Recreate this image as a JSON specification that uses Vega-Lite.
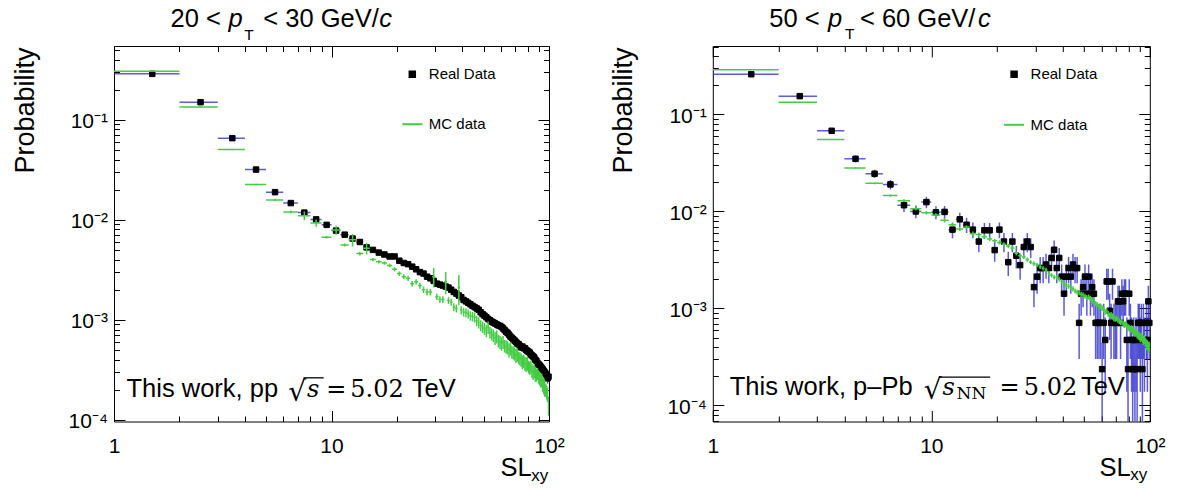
{
"$schema":"https://vega.github.io/schema/vega-lite/v6.json",
"background":"white",
"padding":{"left":10,"top":6,"right":5,"bottom":5},
"bounds":"flush",
"spacing":163.8,
"datasets":{
"one":[{}],
"ld":[{"x":1.5,"y":0.288,"e":0.003},{"x":2.5,"y":0.15,"e":0.002},{"x":3.5,"y":0.0655,"e":0.0012},{"x":4.5,"y":0.0318,"e":0.0008},{"x":5.5,"y":0.0189,"e":0.0006},{"x":6.5,"y":0.0147,"e":0.0005},{"x":7.5,"y":0.0118,"e":0.0004},{"x":8.5,"y":0.0101,"e":0.0004},{"x":9.5,"y":0.0089,"e":0.0003},{"x":10.5,"y":0.0078,"e":0.0003},{"x":11.5,"y":0.0071,"e":0.0003},{"x":12.5,"y":0.0065,"e":0.0003},{"x":13.5,"y":0.006,"e":0.00025},{"x":14.5,"y":0.0053,"e":0.00022},{"x":15.5,"y":0.005,"e":0.0002},{"x":16.5,"y":0.0047,"e":0.0002},{"x":17.5,"y":0.0045,"e":0.0002},{"x":18.5,"y":0.0043,"e":0.00018},{"x":19.5,"y":0.0043,"e":0.00018},{"x":20.5,"y":0.0039,"e":0.00017},{"x":21.5,"y":0.0037,"e":0.00016},{"x":22.5,"y":0.0036,"e":0.00016},{"x":23.5,"y":0.0034,"e":0.00015},{"x":24.5,"y":0.0032,"e":0.00014},{"x":25.5,"y":0.003,"e":0.00014},{"x":26.5,"y":0.0029,"e":0.00013},{"x":27.5,"y":0.0027,"e":0.00012},{"x":28.5,"y":0.0026,"e":0.00012},{"x":29.5,"y":0.00245,"e":0.00011},{"x":30.5,"y":0.0023,"e":0.00011},{"x":31.5,"y":0.00225,"e":0.0001},{"x":32.5,"y":0.0022,"e":0.0001},{"x":33.5,"y":0.00215,"e":0.0001},{"x":34.5,"y":0.0021,"e":0.0001},{"x":35.5,"y":0.002,"e":0.0001},{"x":36.5,"y":0.0019,"e":0.00009},{"x":37.5,"y":0.00183,"e":0.00009},{"x":38.5,"y":0.00175,"e":0.00009},{"x":39.5,"y":0.00168,"e":0.00008},{"x":40.5,"y":0.00158,"e":0.00008},{"x":41.5,"y":0.00153,"e":0.00008},{"x":42.5,"y":0.00148,"e":0.00008},{"x":43.5,"y":0.00143,"e":0.00007},{"x":44.5,"y":0.00138,"e":0.00007},{"x":45.5,"y":0.00134,"e":0.00007},{"x":46.5,"y":0.0013,"e":0.00007},{"x":47.5,"y":0.00126,"e":0.00007},{"x":48.5,"y":0.00119,"e":0.00006},{"x":49.5,"y":0.00114,"e":0.00006},{"x":50.5,"y":0.0011,"e":0.00006},{"x":51.5,"y":0.00106,"e":0.00006},{"x":52.5,"y":0.00102,"e":0.00006},{"x":53.5,"y":0.00099,"e":0.00006},{"x":54.5,"y":0.00096,"e":0.00005},{"x":55.5,"y":0.00094,"e":0.00005},{"x":56.5,"y":0.00092,"e":0.00005},{"x":57.5,"y":0.0009,"e":0.00005},{"x":58.5,"y":0.00088,"e":0.00005},{"x":59.5,"y":0.00087,"e":0.00005},{"x":60.5,"y":0.00085,"e":0.00005},{"x":61.5,"y":0.00082,"e":0.00005},{"x":62.5,"y":0.00079,"e":0.00005},{"x":63.5,"y":0.00076,"e":0.00005},{"x":64.5,"y":0.00074,"e":0.00005},{"x":65.5,"y":0.00071,"e":0.00005},{"x":66.5,"y":0.00068,"e":0.00005},{"x":67.5,"y":0.00066,"e":0.00004},{"x":68.5,"y":0.00064,"e":0.00004},{"x":69.5,"y":0.00062,"e":0.00004},{"x":70.5,"y":0.0006,"e":0.00004},{"x":71.5,"y":0.00058,"e":0.00004},{"x":72.5,"y":0.00057,"e":0.00004},{"x":73.5,"y":0.00055,"e":0.00004},{"x":74.5,"y":0.00053,"e":0.00004},{"x":75.5,"y":0.00054,"e":0.00004},{"x":76.5,"y":0.00052,"e":0.00004},{"x":77.5,"y":0.00052,"e":0.00004},{"x":78.5,"y":0.0005,"e":0.00004},{"x":79.5,"y":0.00049,"e":0.00004},{"x":80.5,"y":0.00048,"e":0.00004},{"x":81.5,"y":0.00047,"e":0.00004},{"x":82.5,"y":0.00045,"e":0.00003},{"x":83.5,"y":0.00044,"e":0.00003},{"x":84.5,"y":0.00043,"e":0.00003},{"x":85.5,"y":0.00042,"e":0.00003},{"x":86.5,"y":0.0004,"e":0.00003},{"x":87.5,"y":0.00039,"e":0.00003},{"x":88.5,"y":0.00037,"e":0.00003},{"x":89.5,"y":0.00036,"e":0.00003},{"x":90.5,"y":0.00035,"e":0.00003},{"x":91.5,"y":0.00034,"e":0.00003},{"x":92.5,"y":0.00033,"e":0.00003},{"x":93.5,"y":0.00032,"e":0.00003},{"x":94.5,"y":0.00031,"e":0.00003},{"x":95.5,"y":0.0003,"e":0.00003},{"x":96.5,"y":0.00029,"e":0.00003},{"x":97.5,"y":0.00028,"e":0.00003},{"x":98.5,"y":0.00026,"e":0.00003},{"x":99.5,"y":0.00027,"e":0.00003}],
"lm":[{"x":1.5,"y":0.306,"e":0.002},{"x":2.5,"y":0.134,"e":0.0015},{"x":3.5,"y":0.0504,"e":0.0008},{"x":4.5,"y":0.0225,"e":0.0005},{"x":5.5,"y":0.0158,"e":0.0004},{"x":6.5,"y":0.012,"e":0.0004},{"x":7.5,"y":0.011,"e":0.0011},{"x":8.5,"y":0.0093,"e":0.0008},{"x":9.5,"y":0.0067,"e":0.0002},{"x":10.5,"y":0.0079,"e":0.0008},{"x":11.5,"y":0.0056,"e":0.0002},{"x":12.5,"y":0.0063,"e":0.0009},{"x":13.5,"y":0.0046,"e":0.0002},{"x":14.5,"y":0.0052,"e":0.0007},{"x":15.5,"y":0.004,"e":0.00015},{"x":16.5,"y":0.0038,"e":0.00015},{"x":17.5,"y":0.0037,"e":0.00015},{"x":18.5,"y":0.0035,"e":0.00015},{"x":19.5,"y":0.0032,"e":0.00015},{"x":20.5,"y":0.0029,"e":0.00015},{"x":21.5,"y":0.0027,"e":0.00015},{"x":22.5,"y":0.0026,"e":0.00015},{"x":23.5,"y":0.0023,"e":0.00015},{"x":24.5,"y":0.0024,"e":0.00015},{"x":25.5,"y":0.0022,"e":0.00015},{"x":26.5,"y":0.002,"e":0.00015},{"x":27.5,"y":0.0019,"e":0.00015},{"x":28.5,"y":0.0019,"e":0.00015},{"x":29.5,"y":0.0027,"e":0.0006},{"x":30.5,"y":0.0017,"e":0.00012},{"x":31.5,"y":0.0016,"e":0.00012},{"x":32.5,"y":0.0016,"e":0.00012},{"x":33.5,"y":0.0024,"e":0.0006},{"x":34.5,"y":0.00156,"e":0.00012},{"x":35.5,"y":0.0015,"e":0.00012},{"x":36.5,"y":0.00134,"e":0.00012},{"x":37.5,"y":0.0013,"e":0.00012},{"x":38.5,"y":0.0021,"e":0.0007},{"x":39.5,"y":0.00125,"e":0.00012},{"x":40.5,"y":0.0012,"e":0.00012},{"x":41.5,"y":0.00118,"e":0.00012},{"x":42.5,"y":0.00115,"e":0.00012},{"x":43.5,"y":0.0011,"e":0.00012},{"x":44.5,"y":0.00108,"e":0.00012},{"x":45.5,"y":0.00106,"e":0.00012},{"x":46.5,"y":0.00098,"e":0.00012},{"x":47.5,"y":0.00094,"e":0.00012},{"x":48.5,"y":0.00088,"e":0.00011},{"x":49.5,"y":0.00085,"e":0.00011},{"x":50.5,"y":0.00082,"e":0.00011},{"x":51.5,"y":0.00078,"e":0.00011},{"x":52.5,"y":0.00084,"e":0.00012},{"x":53.5,"y":0.00075,"e":0.0001},{"x":54.5,"y":0.00072,"e":0.0001},{"x":55.5,"y":0.0007,"e":0.0001},{"x":56.5,"y":0.00066,"e":0.0001},{"x":57.5,"y":0.00068,"e":0.0001},{"x":58.5,"y":0.00062,"e":0.00009},{"x":59.5,"y":0.0006,"e":0.00009},{"x":60.5,"y":0.00058,"e":0.00009},{"x":61.5,"y":0.0006,"e":0.00009},{"x":62.5,"y":0.00055,"e":0.00008},{"x":63.5,"y":0.00054,"e":0.00008},{"x":64.5,"y":0.00053,"e":0.00008},{"x":65.5,"y":0.0005,"e":0.00008},{"x":66.5,"y":0.00052,"e":0.00008},{"x":67.5,"y":0.00048,"e":0.00007},{"x":68.5,"y":0.00047,"e":0.00007},{"x":69.5,"y":0.00046,"e":0.00007},{"x":70.5,"y":0.00044,"e":0.00007},{"x":71.5,"y":0.00045,"e":0.00007},{"x":72.5,"y":0.00042,"e":0.00006},{"x":73.5,"y":0.00041,"e":0.00006},{"x":74.5,"y":0.0004,"e":0.00006},{"x":75.5,"y":0.00038,"e":0.00006},{"x":76.5,"y":0.00039,"e":0.00006},{"x":77.5,"y":0.00037,"e":0.00006},{"x":78.5,"y":0.00036,"e":0.00006},{"x":79.5,"y":0.00037,"e":0.00006},{"x":80.5,"y":0.00034,"e":0.00005},{"x":81.5,"y":0.00033,"e":0.00005},{"x":82.5,"y":0.00034,"e":0.00005},{"x":83.5,"y":0.00031,"e":0.00005},{"x":84.5,"y":0.0003,"e":0.00005},{"x":85.5,"y":0.00031,"e":0.00005},{"x":86.5,"y":0.00029,"e":0.00005},{"x":87.5,"y":0.00028,"e":0.00004},{"x":88.5,"y":0.00029,"e":0.00004},{"x":89.5,"y":0.00027,"e":0.00004},{"x":90.5,"y":0.00026,"e":0.00004},{"x":91.5,"y":0.00025,"e":0.00004},{"x":92.5,"y":0.00025,"e":0.00004},{"x":93.5,"y":0.00023,"e":0.00004},{"x":94.5,"y":0.00022,"e":0.00004},{"x":95.5,"y":0.00021,"e":0.00004},{"x":96.5,"y":0.0002,"e":0.00003},{"x":97.5,"y":0.00019,"e":0.00003},{"x":98.5,"y":0.00018,"e":0.00003},{"x":99.5,"y":0.00014,"e":0.00003}],
"rd":[{"x":1.5,"y":0.26,"e":0.0078},{"x":2.5,"y":0.1545,"e":0.006},{"x":3.5,"y":0.0679,"e":0.004},{"x":4.5,"y":0.0349,"e":0.0029},{"x":5.5,"y":0.0245,"e":0.0024},{"x":6.5,"y":0.019,"e":0.0021},{"x":7.5,"y":0.0116,"e":0.0017},{"x":8.5,"y":0.01,"e":0.0015},{"x":9.5,"y":0.0125,"e":0.0017},{"x":10.5,"y":0.0098,"e":0.0015},{"x":11.5,"y":0.0099,"e":0.0015},{"x":12.5,"y":0.0065,"e":0.0012},{"x":13.5,"y":0.0083,"e":0.0014},{"x":14.5,"y":0.0073,"e":0.0013},{"x":15.5,"y":0.0065,"e":0.0012},{"x":16.5,"y":0.0049,"e":0.0011},{"x":17.5,"y":0.0064,"e":0.0012},{"x":18.5,"y":0.0064,"e":0.0012},{"x":19.5,"y":0.004,"e":0.00097},{"x":20.5,"y":0.0065,"e":0.0012},{"x":21.5,"y":0.0049,"e":0.0011},{"x":22.5,"y":0.003,"e":0.00084},{"x":23.5,"y":0.0049,"e":0.0011},{"x":24.5,"y":0.0035,"e":0.00091},{"x":25.5,"y":0.0028,"e":0.00082},{"x":26.5,"y":0.0043,"e":0.001},{"x":27.5,"y":0.0049,"e":0.0011},{"x":28.5,"y":0.0043,"e":0.001},{"x":29.5,"y":0.00166,"e":0.00063},{"x":30.5,"y":0.00213,"e":0.00071},{"x":31.5,"y":0.00261,"e":0.00079},{"x":32.5,"y":0.00261,"e":0.00079},{"x":33.5,"y":0.00284,"e":0.00082},{"x":34.5,"y":0.00261,"e":0.00079},{"x":35.5,"y":0.00332,"e":0.00089},{"x":36.5,"y":0.00403,"e":0.00098},{"x":37.5,"y":0.00261,"e":0.00079},{"x":38.5,"y":0.00332,"e":0.00089},{"x":39.5,"y":0.00213,"e":0.00071},{"x":40.5,"y":0.00142,"e":0.00058},{"x":41.5,"y":0.00213,"e":0.00071},{"x":42.5,"y":0.00261,"e":0.00079},{"x":43.5,"y":0.00213,"e":0.00071},{"x":44.5,"y":0.00284,"e":0.00082},{"x":45.5,"y":0.00261,"e":0.00079},{"x":46.5,"y":0.00261,"e":0.00079},{"x":47.5,"y":0.000711,"e":0.00041},{"x":48.5,"y":0.00142,"e":0.00058},{"x":49.5,"y":0.00166,"e":0.00063},{"x":50.5,"y":0.00213,"e":0.00071},{"x":51.5,"y":0.00142,"e":0.00058},{"x":52.5,"y":0.00213,"e":0.00071},{"x":53.5,"y":0.00142,"e":0.00058},{"x":54.5,"y":0.00166,"e":0.00063},{"x":55.5,"y":0.00142,"e":0.00058},{"x":56.5,"y":0.000711,"e":0.00041},{"x":57.5,"y":0.000711,"e":0.00041},{"x":58.5,"y":0.000711,"e":0.00041},{"x":59.5,"y":0.000711,"e":0.00041},{"x":60.5,"y":0.000237,"e":0.00021},{"x":61.5,"y":0.000711,"e":0.00041},{"x":62.5,"y":0.000474,"e":0.000335},{"x":63.5,"y":0.0019,"e":0.00067},{"x":64.5,"y":0.0019,"e":0.00067},{"x":65.5,"y":0.000948,"e":0.000474},{"x":66.5,"y":0.000711,"e":0.00041},{"x":67.5,"y":0.0019,"e":0.00067},{"x":68.5,"y":0.000711,"e":0.00041},{"x":69.5,"y":0.000711,"e":0.00041},{"x":70.5,"y":0.000711,"e":0.00041},{"x":71.5,"y":0.001185,"e":0.00053},{"x":72.5,"y":0.001185,"e":0.00053},{"x":73.5,"y":0.000711,"e":0.00041},{"x":74.5,"y":0.00142,"e":0.00058},{"x":75.5,"y":0.001185,"e":0.00053},{"x":76.5,"y":0.00142,"e":0.00058},{"x":77.5,"y":0.00142,"e":0.00058},{"x":78.5,"y":0.000474,"e":0.000335},{"x":79.5,"y":0.000237,"e":0.00021},{"x":80.5,"y":0.00142,"e":0.00058},{"x":81.5,"y":0.000711,"e":0.00041},{"x":82.5,"y":0.000474,"e":0.000335},{"x":83.5,"y":0.000237,"e":0.00021},{"x":84.5,"y":0.000474,"e":0.000335},{"x":85.5,"y":0.000237,"e":0.00021},{"x":86.5,"y":0.000474,"e":0.000335},{"x":87.5,"y":0.000237,"e":0.00021},{"x":88.5,"y":0.000711,"e":0.00041},{"x":89.5,"y":0.000711,"e":0.00041},{"x":90.5,"y":0.000474,"e":0.000335},{"x":91.5,"y":0.000711,"e":0.00041},{"x":92.5,"y":0.000237,"e":0.00021},{"x":93.5,"y":0.000711,"e":0.00041},{"x":94.5,"y":0.000474,"e":0.000335},{"x":96.5,"y":0.000711,"e":0.00041},{"x":97.5,"y":0.000474,"e":0.000335},{"x":98.5,"y":0.001185,"e":0.00053},{"x":99.5,"y":0.000711,"e":0.00041}],
"rm":[{"x":1.5,"y":0.289,"e":0.002},{"x":2.5,"y":0.134,"e":0.0015},{"x":3.5,"y":0.0552,"e":0.0008},{"x":4.5,"y":0.028,"e":0.0005},{"x":5.5,"y":0.0195,"e":0.0004},{"x":6.5,"y":0.0146,"e":0.0004},{"x":7.5,"y":0.0129,"e":0.0004},{"x":8.5,"y":0.0107,"e":0.0004},{"x":9.5,"y":0.0097,"e":0.0004},{"x":10.5,"y":0.0092,"e":0.0004},{"x":11.5,"y":0.0081,"e":0.0004},{"x":12.5,"y":0.0073,"e":0.0003},{"x":13.5,"y":0.0066,"e":0.0003},{"x":14.5,"y":0.0069,"e":0.0003},{"x":15.5,"y":0.0059,"e":0.0003},{"x":16.5,"y":0.0058,"e":0.00028},{"x":17.5,"y":0.0055,"e":0.00027},{"x":18.5,"y":0.0052,"e":0.00026},{"x":19.5,"y":0.005,"e":0.00025},{"x":20.5,"y":0.0048,"e":0.00024},{"x":21.5,"y":0.0046,"e":0.00023},{"x":22.5,"y":0.0044,"e":0.00022},{"x":23.5,"y":0.0042,"e":0.00021},{"x":24.5,"y":0.0037,"e":0.00019},{"x":25.5,"y":0.0035,"e":0.00018},{"x":26.5,"y":0.0034,"e":0.00017},{"x":27.5,"y":0.0032,"e":0.00016},{"x":28.5,"y":0.003,"e":0.00015},{"x":29.5,"y":0.0029,"e":0.00015},{"x":30.5,"y":0.0028,"e":0.00014},{"x":31.5,"y":0.0027,"e":0.00014},{"x":32.5,"y":0.0026,"e":0.00013},{"x":33.5,"y":0.0025,"e":0.00013},{"x":34.5,"y":0.0023,"e":0.00012},{"x":35.5,"y":0.0022,"e":0.00011},{"x":36.5,"y":0.0021,"e":0.00011},{"x":37.5,"y":0.0021,"e":0.00011},{"x":38.5,"y":0.002,"e":0.0001},{"x":39.5,"y":0.0019,"e":0.0001},{"x":40.5,"y":0.0018,"e":0.0001},{"x":41.5,"y":0.00175,"e":0.0001},{"x":42.5,"y":0.0017,"e":0.0001},{"x":43.5,"y":0.00165,"e":0.0001},{"x":44.5,"y":0.0016,"e":0.0001},{"x":45.5,"y":0.00152,"e":0.00009},{"x":46.5,"y":0.00148,"e":0.00009},{"x":47.5,"y":0.00145,"e":0.00009},{"x":48.5,"y":0.0014,"e":0.00009},{"x":49.5,"y":0.00138,"e":0.00009},{"x":50.5,"y":0.00134,"e":0.00008},{"x":51.5,"y":0.0013,"e":0.00008},{"x":52.5,"y":0.00131,"e":0.00008},{"x":53.5,"y":0.00127,"e":0.00008},{"x":54.5,"y":0.0012,"e":0.00008},{"x":55.5,"y":0.00118,"e":0.00008},{"x":56.5,"y":0.00112,"e":0.00007},{"x":57.5,"y":0.0011,"e":0.00007},{"x":58.5,"y":0.00104,"e":0.00007},{"x":59.5,"y":0.00105,"e":0.00007},{"x":60.5,"y":0.00101,"e":0.00007},{"x":61.5,"y":0.00098,"e":0.00007},{"x":62.5,"y":0.00092,"e":0.00006},{"x":63.5,"y":0.00095,"e":0.00006},{"x":64.5,"y":0.00088,"e":0.00006},{"x":65.5,"y":0.00085,"e":0.00006},{"x":66.5,"y":0.00086,"e":0.00006},{"x":67.5,"y":0.00083,"e":0.00006},{"x":68.5,"y":0.0008,"e":0.00006},{"x":69.5,"y":0.00078,"e":0.00005},{"x":70.5,"y":0.00079,"e":0.00005},{"x":71.5,"y":0.00076,"e":0.00005},{"x":72.5,"y":0.00074,"e":0.00005},{"x":73.5,"y":0.00072,"e":0.00005},{"x":74.5,"y":0.00073,"e":0.00005},{"x":75.5,"y":0.0007,"e":0.00005},{"x":76.5,"y":0.00068,"e":0.00005},{"x":77.5,"y":0.00069,"e":0.00005},{"x":78.5,"y":0.00066,"e":0.00005},{"x":79.5,"y":0.00064,"e":0.00005},{"x":80.5,"y":0.00063,"e":0.00005},{"x":81.5,"y":0.00061,"e":0.00005},{"x":82.5,"y":0.00062,"e":0.00005},{"x":83.5,"y":0.00059,"e":0.00005},{"x":84.5,"y":0.00058,"e":0.00005},{"x":85.5,"y":0.00056,"e":0.00005},{"x":86.5,"y":0.00057,"e":0.00005},{"x":87.5,"y":0.00054,"e":0.00005},{"x":88.5,"y":0.00053,"e":0.00005},{"x":89.5,"y":0.00052,"e":0.00005},{"x":90.5,"y":0.0005,"e":0.00005},{"x":91.5,"y":0.00051,"e":0.00005},{"x":92.5,"y":0.00049,"e":0.00005},{"x":93.5,"y":0.00047,"e":0.00005},{"x":94.5,"y":0.00048,"e":0.00005},{"x":95.5,"y":0.00045,"e":0.00005},{"x":96.5,"y":0.00043,"e":0.00005},{"x":97.5,"y":0.00042,"e":0.00005},{"x":98.5,"y":0.0004,"e":0.00005},{"x":99.5,"y":0.00041,"e":0.00005}]
},
"hconcat":[
{"width":435,"height":375.5,
"resolve":{"axis":{"x":"independent","y":"independent"}},
"layer":[
{"data":{"name":"ld"},"transform":[{"bin":{"step":1,"extent":[1,100]},"field":"x","as":["lo","hi"]}],
"mark":{"type":"rule","color":"#3333cc","opacity":0.8,"strokeWidth":1.5,"clip":true},
"encoding":{"x":{"field":"lo","type":"quantitative","scale":{"type":"log","domain":[1,100],"nice":false},
"axis":{"orient":"bottom","values":[1,10,100],"tickSize":-11,"labelPadding":25.4,"labelExpr":"datum.value < 2 ? '1' : datum.value < 20 ? '10' : '10²'","title":"SL","titleFontSize":25.5,"titleX":417.3,"titleY":54,"titleAlign":"right","titleBaseline":"alphabetic"}},
"x2":{"field":"hi"},
"y":{"field":"y","type":"quantitative","scale":{"type":"log","domain":[0.0000962,0.547],"nice":false},
"axis":{"orient":"left","values":[0.0001,0.001,0.01,0.1],"tickSize":-11,"labelPadding":17.5,"labelOffset":2,"labelExpr":"datum.value > 0.05 ? '10⁻¹' : datum.value > 0.005 ? '10⁻²' : datum.value > 0.0005 ? '10⁻³' : '10⁻⁴'","title":"Probability","titleFontSize":27,"titleAngle":270,"titleX":-101.7,"titleY":1,"titleAlign":"right","titleBaseline":"top"}}}},
{"data":{"name":"ld"},
"mark":{"type":"errorbar","color":"#3333cc","opacity":0.8,"thickness":1.5,"clip":true},
"encoding":{"x":{"field":"x","type":"quantitative","axis":{"orient":"top","values":[2,3,4,5,6,7,8,9,20,30,40,50,60,70,80,90],"tickSize":-5.5,"labels":false,"title":null}},
"y":{"field":"y","type":"quantitative","axis":{"orient":"right","values":[0.0002,0.0003,0.0004,0.0005,0.0006,0.0007,0.0008,0.0009,0.002,0.003,0.004,0.005,0.006,0.007,0.008,0.009,0.02,0.03,0.04,0.05,0.06,0.07,0.08,0.09,0.2,0.3,0.4,0.5],"tickSize":-5.5,"labels":false,"title":null}},
"yError":{"field":"e"}}},
{"data":{"name":"ld"},
"mark":{"type":"point","filled":true,"opacity":1,"strokeWidth":1},
"encoding":{"x":{"field":"x","type":"quantitative","axis":{"orient":"bottom","values":[2,3,4,5,6,7,8,9,20,30,40,50,60,70,80,90],"tickSize":-5.5,"labels":false,"title":null}},
"y":{"field":"y","type":"quantitative","axis":{"orient":"left","values":[0.0002,0.0003,0.0004,0.0005,0.0006,0.0007,0.0008,0.0009,0.002,0.003,0.004,0.005,0.006,0.007,0.008,0.009,0.02,0.03,0.04,0.05,0.06,0.07,0.08,0.09,0.2,0.3,0.4,0.5],"tickSize":-5.5,"labels":false,"title":null}},
"fill":{"datum":"Real Data","type":"nominal","scale":{"domain":["Real Data","MC data"],"range":["black","#44cc44"]},"legend":{"orient":"none","legendX":287.3,"legendY":20.8,"title":null,"labelFont":"Liberation Sans","labelFontSize":15,"labelColor":"black","labelOffset":5.5,"rowPadding":30.4,"symbolStrokeWidth":2,"labelLimit":0}},
"stroke":{"datum":"Real Data","type":"nominal","scale":{"domain":["Real Data","MC data"],"range":["black","#44cc44"]},"legend":{"orient":"none","legendX":287.3,"legendY":20.8,"title":null,"labelFont":"Liberation Sans","labelFontSize":15,"labelColor":"black","labelOffset":5.5,"rowPadding":30.4,"symbolStrokeWidth":2,"labelLimit":0}},
"shape":{"datum":"Real Data","type":"nominal","scale":{"domain":["Real Data","MC data"],"range":["square","stroke"]},"legend":{"orient":"none","legendX":287.3,"legendY":20.8,"title":null,"labelFont":"Liberation Sans","labelFontSize":15,"labelColor":"black","labelOffset":5.5,"rowPadding":30.4,"symbolStrokeWidth":2,"labelLimit":0}},
"size":{"datum":"Real Data","type":"nominal","scale":{"type":"ordinal","domain":["Real Data","MC data"],"range":[30,400]},"legend":{"orient":"none","legendX":287.3,"legendY":20.8,"title":null,"labelFont":"Liberation Sans","labelFontSize":15,"labelColor":"black","labelOffset":5.5,"rowPadding":30.4,"symbolStrokeWidth":2,"labelLimit":0}}}},
{"data":{"name":"lm"},"transform":[{"bin":{"step":1,"extent":[1,100]},"field":"x","as":["lo","hi"]}],
"mark":{"type":"rule","color":"#44cc44","strokeWidth":1.5,"clip":true},
"encoding":{"x":{"field":"lo","type":"quantitative","axis":{"orient":"top","values":[1,10,100],"tickSize":-11,"labels":false,"title":null}},"x2":{"field":"hi"},
"y":{"field":"y","type":"quantitative","axis":{"orient":"right","values":[0.0001,0.001,0.01,0.1],"tickSize":-11,"labels":false,"title":null}}}},
{"data":{"name":"lm"},
"mark":{"type":"errorbar","color":"#44cc44","thickness":1.5,"clip":true},
"encoding":{"x":{"field":"x","type":"quantitative","axis":null},"y":{"field":"y","type":"quantitative","axis":null},"yError":{"field":"e"}}},
{"data":{"name":"one"},"mark":{"type":"text","text":"20 < ","align":"left","baseline":"alphabetic","font":"Liberation Sans","fontSize":25.5,"color":"black"},"encoding":{"x":{"datum":1.819,"axis":null},"y":{"datum":0.843,"axis":null}}},
{"data":{"name":"one"},"mark":{"type":"text","text":"p","align":"left","baseline":"alphabetic","font":"Liberation Sans","fontStyle":"italic","fontSize":25.5,"color":"black"},"encoding":{"x":{"datum":3.36,"axis":null},"y":{"datum":0.843,"axis":null}}},
{"data":{"name":"one"},"mark":{"type":"text","text":"T","align":"left","baseline":"alphabetic","font":"Liberation Sans","fontSize":15.5,"color":"black"},"encoding":{"x":{"datum":3.968,"axis":null},"y":{"datum":0.631,"axis":null}}},
{"data":{"name":"one"},"mark":{"type":"text","text":"< 30 GeV/","align":"left","baseline":"alphabetic","font":"Liberation Sans","fontSize":25.5,"color":"black"},"encoding":{"x":{"datum":4.858,"axis":null},"y":{"datum":0.843,"axis":null}}},
{"data":{"name":"one"},"mark":{"type":"text","text":"c","align":"left","baseline":"alphabetic","font":"Liberation Sans","fontStyle":"italic","fontSize":25.5,"color":"black"},"encoding":{"x":{"datum":16.57,"axis":null},"y":{"datum":0.843,"axis":null}}},
{"data":{"name":"one"},"mark":{"type":"text","text":"This work, pp","align":"left","baseline":"alphabetic","font":"Liberation Sans","fontSize":25.5,"color":"black"},"encoding":{"x":{"datum":1.141,"axis":null},"y":{"datum":0.0001683,"axis":null}}},
{"data":{"name":"one"},"mark":{"type":"text","text":"√","align":"left","baseline":"alphabetic","font":"DejaVu Sans","fontSize":28,"color":"black"},"encoding":{"x":{"datum":6.323,"axis":null},"y":{"datum":0.000155,"axis":null}}},
{"data":{"name":"one"},"mark":{"type":"text","text":"s","align":"left","baseline":"alphabetic","font":"DejaVu Serif","fontStyle":"italic","fontSize":24,"color":"black"},"encoding":{"x":{"datum":7.72,"axis":null},"y":{"datum":0.0001683,"axis":null}}},
{"data":{"name":"one"},"mark":{"type":"text","text":"=","align":"left","baseline":"alphabetic","font":"DejaVu Serif","fontSize":24,"color":"black"},"encoding":{"x":{"datum":9.45,"axis":null},"y":{"datum":0.0001683,"axis":null}}},
{"data":{"name":"one"},"mark":{"type":"text","text":"5.02","align":"left","baseline":"alphabetic","font":"DejaVu Serif","fontSize":24,"color":"black"},"encoding":{"x":{"datum":12.2,"axis":null},"y":{"datum":0.0001683,"axis":null}}},
{"data":{"name":"one"},"mark":{"type":"text","text":"TeV","align":"left","baseline":"alphabetic","font":"Liberation Sans","fontSize":25.5,"color":"black"},"encoding":{"x":{"datum":23.4,"axis":null},"y":{"datum":0.0001683,"axis":null}}},
{"data":{"name":"one"},"mark":{"type":"rule","color":"black","strokeWidth":1.3},"encoding":{"x":{"datum":7.436,"axis":null},"x2":{"datum":9.2},"y":{"datum":0.000263,"axis":null}}},
{"data":{"name":"one"},"mark":{"type":"text","text":"xy","align":"left","baseline":"alphabetic","font":"Liberation Sans","fontSize":17,"color":"black"},"encoding":{"x":{"datum":82.9,"axis":null},"y":{"datum":0.0000247,"axis":null}}}
]},
{"width":437,"height":375.5,
"resolve":{"axis":{"x":"independent","y":"independent"}},
"layer":[
{"data":{"name":"rd"},"transform":[{"bin":{"step":1,"extent":[1,100]},"field":"x","as":["lo","hi"]}],
"mark":{"type":"rule","color":"#3333cc","opacity":0.8,"strokeWidth":1.5,"clip":true},
"encoding":{"x":{"field":"lo","type":"quantitative","scale":{"type":"log","domain":[1,100],"nice":false},
"axis":{"orient":"bottom","values":[1,10,100],"tickSize":-11,"labelPadding":25.4,"labelExpr":"datum.value < 2 ? '1' : datum.value < 20 ? '10' : '10²'","title":"SL","titleFontSize":25.5,"titleX":417.5,"titleY":54,"titleAlign":"right","titleBaseline":"alphabetic"}},
"x2":{"field":"hi"},
"y":{"field":"y","type":"quantitative","scale":{"type":"log","domain":[0.0000684,0.508],"nice":false},
"axis":{"orient":"left","values":[0.0001,0.001,0.01,0.1],"tickSize":-11,"labelPadding":17.5,"labelOffset":2,"labelExpr":"datum.value > 0.05 ? '10⁻¹' : datum.value > 0.005 ? '10⁻²' : datum.value > 0.0005 ? '10⁻³' : '10⁻⁴'","title":"Probability","titleFontSize":27,"titleAngle":270,"titleX":-102,"titleY":1,"titleAlign":"right","titleBaseline":"top"}}}},
{"data":{"name":"rd"},
"mark":{"type":"errorbar","color":"#3333cc","opacity":0.8,"thickness":1.5,"clip":true},
"encoding":{"x":{"field":"x","type":"quantitative","axis":{"orient":"top","values":[2,3,4,5,6,7,8,9,20,30,40,50,60,70,80,90],"tickSize":-5.5,"labels":false,"title":null}},
"y":{"field":"y","type":"quantitative","axis":{"orient":"right","values":[0.00007,0.00008,0.00009,0.0002,0.0003,0.0004,0.0005,0.0006,0.0007,0.0008,0.0009,0.002,0.003,0.004,0.005,0.006,0.007,0.008,0.009,0.02,0.03,0.04,0.05,0.06,0.07,0.08,0.09,0.2,0.3,0.4,0.5],"tickSize":-5.5,"labels":false,"title":null}},
"yError":{"field":"e"}}},
{"data":{"name":"rd"},
"mark":{"type":"point","filled":true,"opacity":1,"strokeWidth":1},
"encoding":{"x":{"field":"x","type":"quantitative","axis":{"orient":"bottom","values":[2,3,4,5,6,7,8,9,20,30,40,50,60,70,80,90],"tickSize":-5.5,"labels":false,"title":null}},
"y":{"field":"y","type":"quantitative","axis":{"orient":"left","values":[0.00007,0.00008,0.00009,0.0002,0.0003,0.0004,0.0005,0.0006,0.0007,0.0008,0.0009,0.002,0.003,0.004,0.005,0.006,0.007,0.008,0.009,0.02,0.03,0.04,0.05,0.06,0.07,0.08,0.09,0.2,0.3,0.4,0.5],"tickSize":-5.5,"labels":false,"title":null}},
"fill":{"datum":"Real Data","type":"nominal","scale":{"domain":["Real Data","MC data"],"range":["black","#44cc44"]},"legend":{"orient":"none","legendX":290.3,"legendY":20.8,"title":null,"labelFont":"Liberation Sans","labelFontSize":15,"labelColor":"black","labelOffset":5.5,"rowPadding":31,"symbolStrokeWidth":2,"labelLimit":0}},
"stroke":{"datum":"Real Data","type":"nominal","scale":{"domain":["Real Data","MC data"],"range":["black","#44cc44"]},"legend":{"orient":"none","legendX":290.3,"legendY":20.8,"title":null,"labelFont":"Liberation Sans","labelFontSize":15,"labelColor":"black","labelOffset":5.5,"rowPadding":31,"symbolStrokeWidth":2,"labelLimit":0}},
"shape":{"datum":"Real Data","type":"nominal","scale":{"domain":["Real Data","MC data"],"range":["square","stroke"]},"legend":{"orient":"none","legendX":290.3,"legendY":20.8,"title":null,"labelFont":"Liberation Sans","labelFontSize":15,"labelColor":"black","labelOffset":5.5,"rowPadding":31,"symbolStrokeWidth":2,"labelLimit":0}},
"size":{"datum":"Real Data","type":"nominal","scale":{"type":"ordinal","domain":["Real Data","MC data"],"range":[30,400]},"legend":{"orient":"none","legendX":290.3,"legendY":20.8,"title":null,"labelFont":"Liberation Sans","labelFontSize":15,"labelColor":"black","labelOffset":5.5,"rowPadding":31,"symbolStrokeWidth":2,"labelLimit":0}}}},
{"data":{"name":"rm"},"transform":[{"bin":{"step":1,"extent":[1,100]},"field":"x","as":["lo","hi"]}],
"mark":{"type":"rule","color":"#44cc44","strokeWidth":1.5,"clip":true},
"encoding":{"x":{"field":"lo","type":"quantitative","axis":{"orient":"top","values":[1,10,100],"tickSize":-11,"labels":false,"title":null}},"x2":{"field":"hi"},
"y":{"field":"y","type":"quantitative","axis":{"orient":"right","values":[0.0001,0.001,0.01,0.1],"tickSize":-11,"labels":false,"title":null}}}},
{"data":{"name":"rm"},
"mark":{"type":"errorbar","color":"#44cc44","thickness":1.5,"clip":true},
"encoding":{"x":{"field":"x","type":"quantitative","axis":null},"y":{"field":"y","type":"quantitative","axis":null},"yError":{"field":"e"}}},
{"data":{"name":"one"},"mark":{"type":"text","text":"50 < ","align":"left","baseline":"alphabetic","font":"Liberation Sans","fontSize":25.5,"color":"black"},"encoding":{"x":{"datum":1.814,"axis":null},"y":{"datum":0.794,"axis":null}}},
{"data":{"name":"one"},"mark":{"type":"text","text":"p","align":"left","baseline":"alphabetic","font":"Liberation Sans","fontStyle":"italic","fontSize":25.5,"color":"black"},"encoding":{"x":{"datum":3.371,"axis":null},"y":{"datum":0.794,"axis":null}}},
{"data":{"name":"one"},"mark":{"type":"text","text":"T","align":"left","baseline":"alphabetic","font":"Liberation Sans","fontSize":15.5,"color":"black"},"encoding":{"x":{"datum":4.023,"axis":null},"y":{"datum":0.593,"axis":null}}},
{"data":{"name":"one"},"mark":{"type":"text","text":"< 60 GeV/","align":"left","baseline":"alphabetic","font":"Liberation Sans","fontSize":25.5,"color":"black"},"encoding":{"x":{"datum":4.713,"axis":null},"y":{"datum":0.794,"axis":null}}},
{"data":{"name":"one"},"mark":{"type":"text","text":"c","align":"left","baseline":"alphabetic","font":"Liberation Sans","fontStyle":"italic","fontSize":25.5,"color":"black"},"encoding":{"x":{"datum":16.34,"axis":null},"y":{"datum":0.794,"axis":null}}},
{"data":{"name":"one"},"mark":{"type":"text","text":"This work, p–Pb","align":"left","baseline":"alphabetic","font":"Liberation Sans","fontSize":25.5,"color":"black"},"encoding":{"x":{"datum":1.196,"axis":null},"y":{"datum":0.0001268,"axis":null}}},
{"data":{"name":"one"},"mark":{"type":"text","text":"√","align":"left","baseline":"alphabetic","font":"DejaVu Sans","fontSize":28,"color":"black"},"encoding":{"x":{"datum":9.24,"axis":null},"y":{"datum":0.000116,"axis":null}}},
{"data":{"name":"one"},"mark":{"type":"text","text":"s","align":"left","baseline":"alphabetic","font":"DejaVu Serif","fontStyle":"italic","fontSize":24,"color":"black"},"encoding":{"x":{"datum":11.25,"axis":null},"y":{"datum":0.0001268,"axis":null}}},
{"data":{"name":"one"},"mark":{"type":"text","text":"NN","align":"left","baseline":"alphabetic","font":"DejaVu Serif","fontSize":17,"color":"black"},"encoding":{"x":{"datum":13.05,"axis":null},"y":{"datum":0.000118,"axis":null}}},
{"data":{"name":"one"},"mark":{"type":"text","text":"=","align":"left","baseline":"alphabetic","font":"DejaVu Serif","fontSize":24,"color":"black"},"encoding":{"x":{"datum":20.5,"axis":null},"y":{"datum":0.0001268,"axis":null}}},
{"data":{"name":"one"},"mark":{"type":"text","text":"5.02","align":"left","baseline":"alphabetic","font":"DejaVu Serif","fontSize":24,"color":"black"},"encoding":{"x":{"datum":26.5,"axis":null},"y":{"datum":0.0001268,"axis":null}}},
{"data":{"name":"one"},"mark":{"type":"text","text":"TeV","align":"left","baseline":"alphabetic","font":"Liberation Sans","fontSize":25.5,"color":"black"},"encoding":{"x":{"datum":48.4,"axis":null},"y":{"datum":0.0001268,"axis":null}}},
{"data":{"name":"one"},"mark":{"type":"rule","color":"black","strokeWidth":1.3},"encoding":{"x":{"datum":10.95,"axis":null},"x2":{"datum":18.6},"y":{"datum":0.000196,"axis":null}}},
{"data":{"name":"one"},"mark":{"type":"text","text":"xy","align":"left","baseline":"alphabetic","font":"Liberation Sans","fontSize":17,"color":"black"},"encoding":{"x":{"datum":81.4,"axis":null},"y":{"datum":0.0000169,"axis":null}}}
]}
],
"resolve":{"scale":{"x":"independent","y":"independent","fill":"independent","stroke":"independent","shape":"independent","size":"independent"},"legend":{"fill":"independent","stroke":"independent","shape":"independent","size":"independent"}},
"config":{
"font":"Liberation Sans",
"view":{"stroke":"black","strokeWidth":1},
"axis":{"domain":false,"grid":false,"ticks":true,"tickColor":"black","tickWidth":1,"labelFont":"Liberation Sans","labelFontSize":21,"labelColor":"black","titleFont":"Liberation Sans","titleColor":"black","titleFontWeight":"normal","labelFlush":false,"labelOverlap":false,"labelBound":false}
}
}
